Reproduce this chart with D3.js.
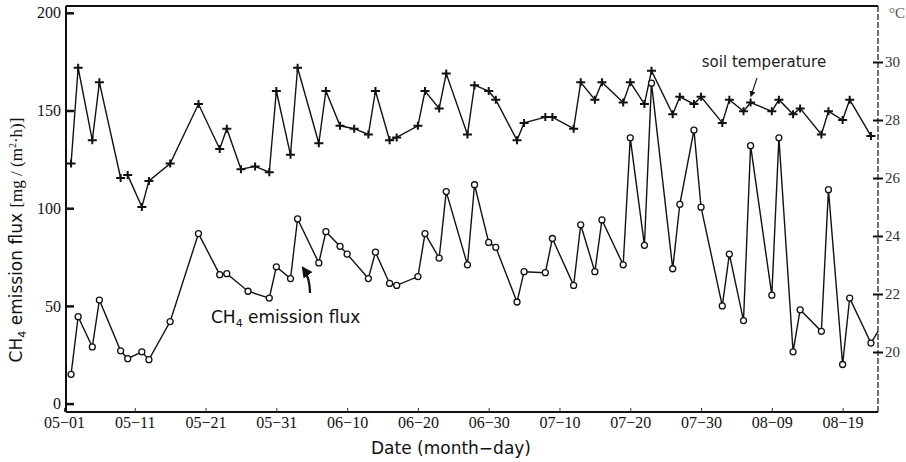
<!DOCTYPE html>
<html>
<head>
<meta charset="utf-8">
<script src="https://cdn.jsdelivr.net/npm/d3@7"></script>
<style>
  body { margin: 0; background: white; }
  svg { display: block; }
</style>
</head>
<body>
<div id="wrapper"></div>
<script>
// values
var tickLabels = ["05-01", "05-11", "05-21", "05-31", "06-10", "06-20", "06-30", "07-10", "07-20", "07-30", "08-09", "08-19"];
var fluxTicks = [0, 50, 100, 150, 200];
var tempTicks = [20, 22, 24, 26, 28, 30];

// soil temperature (°C), measured days; the line is broken after 05-09
var tempDates = ["05-02", "05-03", "05-05", "05-06", "05-09",
  "05-10", "05-12", "05-13", "05-16", "05-20", "05-23", "05-24", "05-26", "05-28", "05-30",
  "05-31", "06-02", "06-03", "06-06", "06-07", "06-09", "06-11", "06-13", "06-14", "06-16",
  "06-17", "06-20", "06-21", "06-23", "06-24", "06-27", "06-28", "06-30", "07-01", "07-04",
  "07-05", "07-08", "07-09", "07-12", "07-13", "07-15", "07-16", "07-19", "07-20", "07-22",
  "07-23", "07-26", "07-27", "07-29", "07-30", "08-02", "08-03", "08-05", "08-06", "08-09",
  "08-10", "08-12", "08-13", "08-16", "08-17", "08-19", "08-20", "08-23"];
var tempValues = [26.5, 29.8, 27.3, 29.3, 26.0,
  26.1, 25.0, 25.9, 26.5, 28.55, 27.0, 27.7, 26.3, 26.4, 26.2,
  29.0, 26.8, 29.8, 27.2, 29.0, 27.8, 27.7, 27.5, 29.0, 27.3,
  27.4, 27.8, 29.0, 28.4, 29.6, 27.5, 29.2, 29.0, 28.7, 27.3,
  27.9, 28.1, 28.1, 27.7, 29.3, 28.7, 29.3, 28.6, 29.3, 28.55,
  29.7, 28.2, 28.8, 28.55, 28.8, 27.9, 28.7, 28.3, 28.6, 28.3,
  28.7, 28.2, 28.4, 27.5, 28.3, 28.0, 28.7, 27.45];
var tempBreakAfter = ["05-09"];

// CH4 emission flux mg/(m2.h)
var fluxDates = ["05-02", "05-03", "05-05", "05-06", "05-09", "05-10", "05-12", "05-13", "05-16", "05-20",
  "05-23", "05-24", "05-27", "05-30", "05-31", "06-02", "06-03", "06-06", "06-07", "06-09",
  "06-10", "06-13", "06-14", "06-16", "06-17", "06-20", "06-21", "06-23", "06-24", "06-27",
  "06-28", "06-30", "07-01", "07-04", "07-05", "07-08", "07-09", "07-12", "07-13", "07-15",
  "07-16", "07-19", "07-20", "07-22", "07-23", "07-26", "07-27", "07-29", "07-30", "08-02",
  "08-03", "08-05", "08-06", "08-09", "08-10", "08-12", "08-13", "08-16", "08-17", "08-19",
  "08-20", "08-23", "08-24"];
var fluxValues = [15, 44.5, 29, 53, 27, 23, 26.5, 22.5, 42, 87,
  66, 66.5, 57.5, 54, 70, 64, 94.5, 72, 88, 80.5,
  76.5, 64, 77.5, 61.5, 60.5, 65, 87, 74.5, 108.5, 71,
  112, 82.5, 80, 52, 67.5, 67, 84.5, 60.5, 91.5, 67.5,
  94, 71, 136, 81, 164, 69, 102, 140, 100.5, 50,
  76.5, 42.5, 132, 55.5, 136, 26.5, 48, 37, 109.5, 20,
  54, 31, 37];

var parseDay = d3.utcParse("%m-%d");

const dimension = {
    width: 906,
    height: 462,
    left: 66,
    right: 878,
    top: 6,
    bottom: 412
};

const svg = d3.select("#wrapper")
    .append("svg")
    .attr("width", dimension.width)
    .attr("height", dimension.height)
    .style("background", "white");

var x = d3.scaleUtc()
    .domain([parseDay("05-01"), parseDay("08-24")])
    .range([64, 878]);

var yFlux = d3.scaleLinear()
    .domain([0, 200])
    .range([403.6, 12.8]);

var yTemp = d3.scaleLinear()
    .domain([20, 30])
    .range([352, 62]);

var serif = "'Liberation Serif', 'DejaVu Serif', serif";
var sans = "'DejaVu Sans', 'Liberation Sans', sans-serif";

// frame
var frame = svg.append("g").attr("stroke", "#111").attr("fill", "none");
frame.append("line")
    .attr("x1", dimension.left).attr("x2", dimension.right)
    .attr("y1", dimension.top).attr("y2", dimension.top)
    .attr("stroke-width", 2);
frame.append("line")
    .attr("x1", dimension.left).attr("x2", dimension.left)
    .attr("y1", dimension.top).attr("y2", dimension.bottom)
    .attr("stroke-width", 2);
frame.append("line")
    .attr("x1", dimension.left).attr("x2", dimension.right)
    .attr("y1", dimension.bottom).attr("y2", dimension.bottom)
    .attr("stroke-width", 2.2);
frame.append("line")
    .attr("x1", dimension.right).attr("x2", dimension.right)
    .attr("y1", dimension.top).attr("y2", dimension.bottom)
    .attr("stroke-width", 1.2)
    .attr("stroke-dasharray", "6,2");

// bottom axis
var xAxis = svg.append("g")
    .attr("transform", "translate(0," + dimension.bottom + ")")
    .call(d3.axisBottom(x)
        .tickValues(tickLabels.map(parseDay))
        .tickSize(-4)
        .tickPadding(5)
        .tickFormat(d => d3.utcFormat("%m-%d")(d).replace("-", "\u2212")));
xAxis.select(".domain").remove();
xAxis.selectAll("text").attr("font-family", serif).attr("font-size", 16).attr("fill", "#111");
xAxis.selectAll("line").attr("stroke", "#333");

// left axis
var yAxisL = svg.append("g")
    .attr("transform", "translate(" + dimension.left + ",0)")
    .call(d3.axisLeft(yFlux).tickValues(fluxTicks).tickSize(-8).tickPadding(5));
yAxisL.select(".domain").remove();
yAxisL.selectAll("line").attr("stroke", "#111").attr("stroke-width", 2.5);
yAxisL.selectAll("text").attr("font-family", serif).attr("font-size", 16).attr("fill", "#111");

// right axis
var yAxisR = svg.append("g")
    .attr("transform", "translate(" + dimension.right + ",0)")
    .call(d3.axisRight(yTemp).tickValues(tempTicks).tickSize(5).tickPadding(2));
yAxisR.select(".domain").remove();
yAxisR.selectAll("line").attr("stroke", "#111").attr("stroke-width", 2).attr("x1", -5);
yAxisR.selectAll("text").attr("font-family", serif).attr("font-size", 15).attr("fill", "#333");

svg.append("text")
    .attr("x", 889).attr("y", 18)
    .attr("font-family", serif).attr("font-size", 15).attr("fill", "#555")
    .text("\u00B0C");

// temperature series
var tempData = tempDates.map((d, i) => ({date: parseDay(d), value: tempValues[i], label: d}));
var tempSegments = [[]];
tempData.forEach(d => {
    tempSegments[tempSegments.length - 1].push(d);
    if (tempBreakAfter.indexOf(d.label) >= 0) tempSegments.push([]);
});

var tempLine = d3.line().x(d => x(d.date)).y(d => yTemp(d.value));

svg.append("g")
    .attr("class", "temp")
    .selectAll("path")
    .data(tempSegments)
    .enter()
    .append("path")
    .attr("d", tempLine)
    .attr("fill", "none")
    .attr("stroke", "#111")
    .attr("stroke-width", 1.4);

svg.append("g")
    .attr("class", "tempMarks")
    .selectAll("path")
    .data(tempData)
    .enter()
    .append("path")
    .attr("transform", d => "translate(" + x(d.date) + "," + yTemp(d.value) + ")")
    .attr("d", "M-4.5,0H4.5M0,-4V4")
    .attr("stroke", "#111")
    .attr("stroke-width", 2);

// CH4 flux series
var fluxData = fluxDates.map((d, i) => ({date: parseDay(d), value: fluxValues[i]}));

svg.append("path")
    .datum(fluxData)
    .attr("d", d3.line().x(d => x(d.date)).y(d => yFlux(d.value)))
    .attr("fill", "none")
    .attr("stroke", "#111")
    .attr("stroke-width", 1.4);

svg.append("g")
    .attr("class", "fluxMarks")
    .selectAll("circle")
    .data(fluxData.filter(d => x(d.date) < dimension.right - 2))
    .enter()
    .append("circle")
    .attr("cx", d => x(d.date))
    .attr("cy", d => yFlux(d.value))
    .attr("r", 3)
    .attr("fill", "white")
    .attr("stroke", "#111")
    .attr("stroke-width", 1.3);

// annotations
svg.append("defs").append("marker")
    .attr("id", "head")
    .attr("viewBox", "0 0 10 10")
    .attr("refX", 8).attr("refY", 5)
    .attr("markerWidth", 5).attr("markerHeight", 5)
    .attr("orient", "auto")
    .append("path")
    .attr("d", "M0,0L10,5L0,10z")
    .attr("fill", "#111");

svg.append("text")
    .attr("x", 764).attr("y", 67)
    .attr("text-anchor", "middle")
    .attr("font-family", sans).attr("font-size", 15).attr("fill", "#222")
    .text("soil temperature");

svg.append("path")
    .attr("d", "M757,78L751,96")
    .attr("stroke", "#222").attr("stroke-width", 1.2).attr("fill", "none")
    .attr("marker-end", "url(#head)");

var chLabel = svg.append("text")
    .attr("x", 211).attr("y", 323)
    .attr("font-family", sans).attr("font-size", 17).attr("fill", "#111");
chLabel.append("tspan").text("CH");
chLabel.append("tspan").attr("font-size", 11).attr("dy", 4).text("4");
chLabel.append("tspan").attr("dy", -4).text(" emission flux");

svg.append("path")
    .attr("d", "M310,293Q310,278 303,268")
    .attr("stroke", "#111").attr("stroke-width", 2.2).attr("fill", "none")
    .attr("marker-end", "url(#head)");

// axis titles
svg.append("text")
    .attr("x", 451).attr("y", 454)
    .attr("text-anchor", "middle")
    .attr("font-family", sans).attr("font-size", 17).attr("fill", "#111")
    .text("Date (month\u2212day)");

var yTitle = svg.append("text")
    .attr("transform", "translate(22,240) rotate(-90)")
    .attr("text-anchor", "middle")
    .attr("font-family", sans).attr("font-size", 17).attr("fill", "#111");
yTitle.append("tspan").text("CH");
yTitle.append("tspan").attr("font-size", 11).attr("dy", 4).text("4");
yTitle.append("tspan").attr("dy", -4).text(" emission flux ");
yTitle.append("tspan").attr("font-family", serif).attr("font-size", 17).text("[mg / (m");
yTitle.append("tspan").attr("font-family", serif).attr("font-size", 10).attr("dy", -6).text("2");
yTitle.append("tspan").attr("font-family", serif).attr("font-size", 17).attr("dy", 6).text("\u00B7h)]");
</script>
</body>
</html>
